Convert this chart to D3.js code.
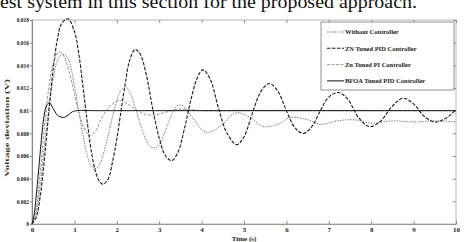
<!DOCTYPE html>
<html>
<head>
<meta charset="utf-8">
<script src="https://cdn.jsdelivr.net/npm/d3@7"></script>
<style>
  body { margin: 0; background: #fff; }
  svg { display: block; }
</style>
</head>
<body>
<div id="chart"></div>
<script>
// Values (time in s, voltage deviation in V)
const xTicks = [0, 1, 2, 3, 4, 5, 6, 7, 8, 9, 10];
const yTicks = [0, 0.002, 0.004, 0.006, 0.008, 0.01, 0.012, 0.014, 0.016, 0.018];
const seriesNames = ["Without Controller", "ZN Tuned PID Controller", "Zn Tuned PI Controller", "BFOA Tuned PID Controller"];

const tWithout = [0, 0.1, 0.2, 0.3, 0.4, 0.5, 0.6, 0.73, 0.85, 1.0, 1.1, 1.2, 1.3, 1.4, 1.5, 1.6, 1.7, 1.8, 1.9, 2.0, 2.1, 2.2, 2.3, 2.45, 2.6, 2.8, 2.95, 3.1, 3.3, 3.45, 3.6, 3.8, 4.1, 4.4, 4.8, 5.1, 5.45, 5.8, 6.1, 6.5, 6.8, 7.2, 7.6, 8.0, 8.5, 9.0, 9.5, 10];
const vWithout = [0, 0.0010, 0.0036, 0.0072, 0.0103, 0.0128, 0.0144, 0.0150, 0.0146, 0.0122, 0.0100, 0.0079, 0.0061, 0.0051, 0.0049, 0.0053, 0.0064, 0.0079, 0.0095, 0.0109, 0.0118, 0.0121, 0.0117, 0.0101, 0.0083, 0.0068, 0.0068, 0.0078, 0.0097, 0.0105, 0.0103, 0.0093, 0.0081, 0.0085, 0.0098, 0.0095, 0.0086, 0.0088, 0.0094, 0.0092, 0.0088, 0.0091, 0.0092, 0.0089, 0.0091, 0.0090, 0.0091, 0.0090];

const tZnPid = [0, 0.1, 0.2, 0.3, 0.4, 0.5, 0.6, 0.7, 0.85, 1.0, 1.1, 1.2, 1.3, 1.4, 1.5, 1.6, 1.68, 1.8, 1.9, 2.0, 2.1, 2.2, 2.3, 2.43, 2.55, 2.7, 2.85, 3.0, 3.15, 3.3, 3.45, 3.6, 3.75, 3.9, 4.03, 4.2, 4.4, 4.6, 4.83, 5.0, 5.2, 5.4, 5.6, 5.8, 6.0, 6.2, 6.4, 6.6, 6.8, 7.0, 7.23, 7.45, 7.7, 7.95, 8.2, 8.5, 8.75, 9.0, 9.25, 9.5, 9.75, 10];
const vZnPid = [0, 0.0006, 0.0026, 0.0060, 0.0100, 0.0137, 0.0163, 0.0177, 0.0181, 0.0170, 0.0151, 0.0122, 0.0091, 0.0064, 0.0046, 0.0037, 0.0035, 0.0040, 0.0055, 0.0075, 0.0100, 0.0124, 0.0144, 0.0154, 0.0150, 0.0131, 0.0101, 0.0076, 0.0060, 0.0056, 0.0064, 0.0085, 0.0110, 0.0129, 0.0136, 0.0128, 0.0102, 0.0080, 0.0070, 0.0077, 0.0098, 0.0117, 0.0124, 0.0117, 0.0100, 0.0085, 0.0080, 0.0086, 0.0100, 0.0112, 0.0116, 0.0110, 0.0094, 0.0086, 0.0090, 0.0104, 0.0111, 0.0106, 0.0095, 0.0090, 0.0093, 0.0101];

const tZnPi = [0, 0.1, 0.2, 0.3, 0.4, 0.5, 0.64, 0.75, 0.9, 1.0, 1.1, 1.2, 1.3, 1.37, 1.5, 1.6, 1.75, 1.9, 2.08, 2.25, 2.45, 2.65, 2.85, 3.1, 3.4, 3.7, 4.0, 5.0, 6.0, 7.0, 8.0, 9.0, 10];
const vZnPi = [0, 0.0014, 0.0048, 0.0088, 0.0121, 0.0142, 0.0152, 0.0148, 0.0131, 0.0115, 0.0099, 0.0087, 0.0080, 0.0078, 0.0082, 0.0090, 0.0100, 0.0106, 0.0109, 0.0106, 0.0101, 0.0097, 0.0096, 0.0098, 0.0101, 0.0101, 0.0100, 0.0100, 0.0100, 0.0100, 0.0100, 0.0100, 0.0100];

const tBfoa = [0, 0.05, 0.1, 0.15, 0.2, 0.25, 0.3, 0.35, 0.41, 0.5, 0.6, 0.74, 0.85, 0.95, 1.06, 1.5, 2, 4, 6, 8, 10];
const vBfoa = [0, 0.0008, 0.0025, 0.0045, 0.0066, 0.0085, 0.0099, 0.0105, 0.0107, 0.0102, 0.0096, 0.0094, 0.0096, 0.0099, 0.0100, 0.0100, 0.0100, 0.0100, 0.0100, 0.0100, 0.0100];

const width = 468, height = 242;
const margin = {top: 20, right: 12, bottom: 18, left: 32};
const serif = "'Liberation Serif', 'Times New Roman', serif";

const svg = d3.select("#chart")
  .append("svg")
  .attr("width", width)
  .attr("height", height)
  .style("background", "#fff");

// cropped line of paper text above the figure
svg.append("text")
  .attr("x", 0)
  .attr("y", 8)
  .attr("textLength", 417)
  .attr("lengthAdjust", "spacingAndGlyphs")
  .style("font-family", serif)
  .style("font-size", "18px")
  .style("fill", "#111")
  .text("est system in this section for the proposed approach.");

const x = d3.scaleLinear()
  .domain([0, 10])
  .range([margin.left, width - margin.right]);

const y = d3.scaleLinear()
  .domain([0, 0.018])
  .range([height - margin.bottom, margin.top]);

// frame
svg.append("rect")
  .attr("x", x(0))
  .attr("y", y(0.018))
  .attr("width", x(10) - x(0))
  .attr("height", y(0) - y(0.018))
  .attr("fill", "none")
  .attr("stroke", "#a8a8a8")
  .attr("stroke-width", 0.8);

// bottom axis, ticks pointing in
const xAxis = svg.append("g")
  .attr("transform", `translate(0,${y(0)})`)
  .call(d3.axisBottom(x).tickValues(xTicks).tickSize(-3).tickPadding(3).tickFormat(d3.format("d")));
xAxis.select(".domain").attr("stroke", "#999");
xAxis.selectAll(".tick line").attr("stroke", "#888");
xAxis.selectAll("text")
  .style("font-family", serif)
  .style("font-size", "7px")
  .style("font-weight", "bold")
  .attr("fill", "#222");

// top ticks
svg.append("g")
  .attr("transform", `translate(0,${y(0.018)})`)
  .call(d3.axisTop(x).tickValues(xTicks).tickSize(-3).tickFormat(""))
  .call(g => g.select(".domain").remove())
  .selectAll(".tick line").attr("stroke", "#888");

// left axis
const yAxis = svg.append("g")
  .attr("transform", `translate(${x(0)},0)`)
  .call(d3.axisLeft(y).tickValues(yTicks).tickSize(2).tickPadding(1)
    .tickFormat(d => d === 0 ? "0" : d3.format(".3~f")(d)));
yAxis.select(".domain").attr("stroke", "#888");
yAxis.selectAll(".tick line").attr("stroke", "#888");
yAxis.selectAll("text")
  .style("font-family", serif)
  .style("font-size", "5.5px")
  .style("font-weight", "bold")
  .attr("fill", "#222");

// right ticks
svg.append("g")
  .attr("transform", `translate(${x(10)},0)`)
  .call(d3.axisRight(y).tickValues(yTicks).tickSize(-3).tickFormat(""))
  .call(g => g.select(".domain").remove())
  .selectAll(".tick line").attr("stroke", "#888");

// series
const series = [
  {name: seriesNames[0], t: tWithout, v: vWithout, color: "#555", width: 0.9, dash: "1.2,1.4"},
  {name: seriesNames[1], t: tZnPid, v: vZnPid, color: "#1a1a1a", width: 1.1, dash: "3.5,1.5"},
  {name: seriesNames[2], t: tZnPi, v: vZnPi, color: "#8a8a8a", width: 0.9, dash: "3,1.5"},
  {name: seriesNames[3], t: tBfoa, v: vBfoa, color: "#111", width: 1.0, dash: null}
];

const line = d3.line()
  .x(d => x(d[0]))
  .y(d => y(d[1]))
  .curve(d3.curveCatmullRom.alpha(0.5));

series.forEach(s => {
  svg.append("path")
    .datum(s.t.map((t, i) => [t, s.v[i]]))
    .attr("fill", "none")
    .attr("stroke", s.color)
    .attr("stroke-width", s.width)
    .attr("stroke-dasharray", s.dash)
    .attr("d", line);
});

// legend
const legend = svg.append("g")
  .attr("transform", "translate(321,22)");

legend.append("rect")
  .attr("width", 133)
  .attr("height", 68)
  .attr("fill", "#fff")
  .attr("stroke", "#777")
  .attr("stroke-width", 0.8);

series.forEach((s, i) => {
  const ly = 10 + i * 16.3;
  legend.append("line")
    .attr("x1", 6).attr("x2", 23)
    .attr("y1", ly).attr("y2", ly)
    .attr("stroke", s.color)
    .attr("stroke-width", s.width)
    .attr("stroke-dasharray", s.dash);
  legend.append("text")
    .attr("x", 24)
    .attr("y", ly + 2.2)
    .style("font-family", serif)
    .style("font-size", "6.5px")
    .style("font-weight", "bold")
    .attr("fill", "#222")
    .text(s.name);
});

// axis titles
svg.append("text")
  .attr("x", (x(0) + x(10)) / 2)
  .attr("y", 240.5)
  .style("text-anchor", "middle")
  .style("font-family", serif)
  .style("font-size", "7px")
  .style("font-weight", "bold")
  .attr("fill", "#222")
  .text("Time (s)");

svg.append("text")
  .attr("transform", "rotate(-90)")
  .attr("x", -128)
  .attr("y", 9)
  .attr("textLength", 98)
  .attr("lengthAdjust", "spacingAndGlyphs")
  .style("text-anchor", "middle")
  .style("font-family", serif)
  .style("font-size", "6.5px")
  .style("font-weight", "bold")
  .attr("fill", "#333")
  .text("Voltage deviation (V)");
</script>
</body>
</html>
